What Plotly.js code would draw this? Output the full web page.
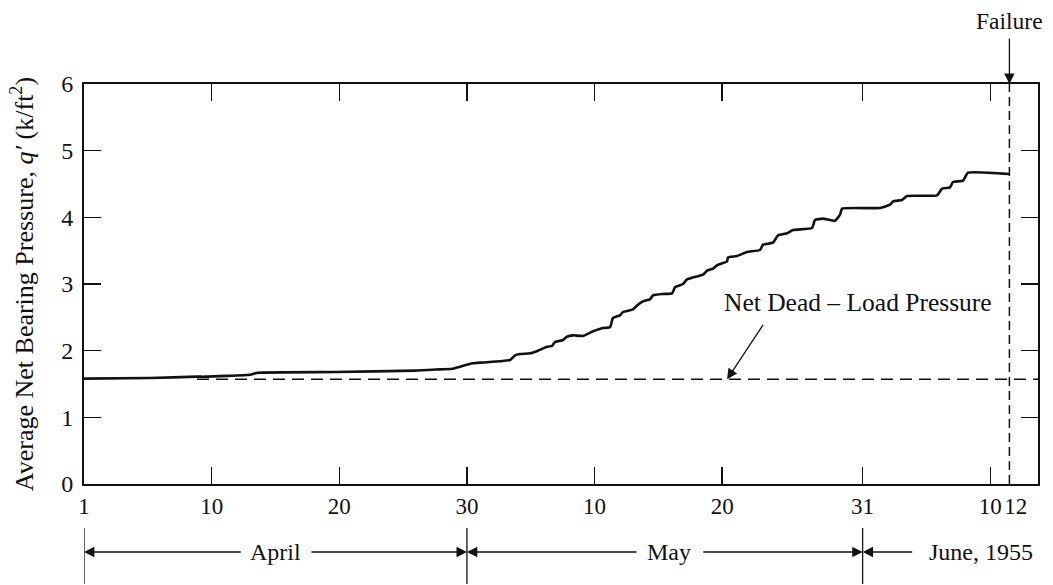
<!DOCTYPE html>
<html>
<head>
<meta charset="utf-8">
<script src="https://cdn.plot.ly/plotly-3.0.1.min.js"></script>
<style>
  html, body { margin: 0; padding: 0; background: #ffffff; }
  #chart { width: 1053px; height: 585px; }
</style>
</head>
<body>
<div id="chart"></div>
<script>
// ---- Data (x = day position along the chart's time axis, 0 = April 1) ----
const days = [0, 5.17, 8.85, 9.48, 13.01, 13.63, 19.66, 25.93, 27.89, 28.91, 29.46, 30.48, 31.02, 32.59,
  33.38, 33.77, 34.16, 34.94, 35.57, 36.27, 36.67, 36.90, 37.53, 37.84, 38.31, 39.09, 39.88, 40.66,
  41.21, 41.44, 41.99, 42.23, 43.01, 43.40, 43.79, 44.34, 44.58, 45.36, 46.07, 46.30, 46.93, 47.24,
  47.71, 48.50, 48.81, 49.28, 49.59, 50.38, 50.46, 51.16, 51.94, 52.96, 53.20, 53.98, 54.37, 55.08,
  55.55, 57.04, 57.27, 57.90, 58.84, 59.23, 59.39, 62.36, 63.15, 63.38, 64.09, 64.48, 66.83, 67.22,
  67.85, 68.08, 68.87, 69.26, 72.5];
const pressure = [1.58, 1.59, 1.61, 1.61, 1.64, 1.67, 1.68, 1.70, 1.72, 1.73, 1.76, 1.81, 1.82, 1.84,
  1.86, 1.93, 1.95, 1.96, 2.00, 2.06, 2.07, 2.13, 2.16, 2.21, 2.23, 2.22, 2.29, 2.34,
  2.35, 2.49, 2.53, 2.58, 2.62, 2.69, 2.74, 2.77, 2.83, 2.85, 2.86, 2.95, 3.00, 3.07,
  3.10, 3.14, 3.20, 3.23, 3.28, 3.34, 3.40, 3.42, 3.48, 3.51, 3.59, 3.62, 3.73, 3.76,
  3.81, 3.84, 3.96, 3.98, 3.95, 4.04, 4.13, 4.14, 4.19, 4.24, 4.26, 4.32, 4.33, 4.43,
  4.45, 4.53, 4.55, 4.67, 4.65];

const deadLoadDays = [8.85, 74.74];
const deadLoadPressure = [1.57, 1.57];

const failureDay = 72.5;
const yRange = [0, 6];
const xRange = [0, 74.74];

const tickDays = [0, 10, 20, 30, 40, 50, 61, 71, 73];
const tickLabels = ['1', '10', '20', '30', '10', '20', '31', '10', '12'];

const monthNames = ['April', 'May', 'June, 1955'];
const monthStarts = [0, 30, 61];
const monthLabelDays = [15, 45.8, 70.3];
// arrow tails (left, right) for each month label
const monthArrowTails = [[12.4, 17.7], [43.4, 48.4], [65.0, null]];

const deadLoadArrowDay = 50.38;
const deadLoadLabelDay = 60.6;
const deadLoadLabelPressure = 2.73;

const FONT = 'Liberation Serif, Times New Roman, serif';
const INK = '#111111';

// ---- Traces ----
const traces = [
  {
    x: days, y: pressure, type: 'scatter', mode: 'lines',
    line: { color: INK, width: 2.6, shape: 'spline', smoothing: 0.4 }, hoverinfo: 'skip', showlegend: false
  },
  {
    x: deadLoadDays, y: deadLoadPressure, type: 'scatter', mode: 'lines',
    line: { color: INK, width: 1.5, dash: '12px,7px' }, hoverinfo: 'skip', showlegend: false
  },
  {
    x: [failureDay, failureDay], y: yRange, type: 'scatter', mode: 'lines',
    line: { color: INK, width: 1.5, dash: '9px,5px' }, hoverinfo: 'skip', showlegend: false
  }
];

// ---- Annotations ----
const annotations = [];
const rowY = -0.17;
const arrowStyle = { showarrow: true, arrowhead: 2, arrowsize: 1.6, arrowwidth: 1.3, arrowcolor: INK, standoff: 0 };
monthNames.forEach((name, i) => {
  annotations.push({
    x: monthLabelDays[i], y: rowY, xref: 'x', yref: 'paper', text: name, showarrow: false,
    font: { family: FONT, size: 24, color: INK }, xanchor: 'center', yanchor: 'middle'
  });
  const tails = monthArrowTails[i];
  if (tails[0] !== null) {
    annotations.push(Object.assign({
      x: monthStarts[i], y: rowY, xref: 'x', yref: 'paper',
      ax: tails[0], ay: 0, axref: 'x', ayref: 'pixel', text: ''
    }, arrowStyle));
  }
  if (tails[1] !== null && i + 1 < monthStarts.length) {
    annotations.push(Object.assign({
      x: monthStarts[i + 1], y: rowY, xref: 'x', yref: 'paper',
      ax: tails[1], ay: 0, axref: 'x', ayref: 'pixel', text: ''
    }, arrowStyle));
  }
});

// Failure label + arrow
annotations.push({
  x: failureDay, y: 1.1575, xref: 'x', yref: 'paper', text: 'Failure', showarrow: false,
  font: { family: FONT, size: 23.5, color: INK }, xanchor: 'center', yanchor: 'middle'
});
annotations.push(Object.assign({
  x: failureDay, y: 1, xref: 'x', yref: 'paper', ax: 0, ay: -47, text: ''
}, arrowStyle));

// Net dead-load label + arrow
annotations.push({
  x: deadLoadLabelDay, y: deadLoadLabelPressure, xref: 'x', yref: 'y',
  text: 'Net Dead \u2013 Load Pressure', showarrow: false,
  font: { family: FONT, size: 25.5, color: INK }, xanchor: 'center', yanchor: 'middle'
});
annotations.push(Object.assign({
  x: deadLoadArrowDay, y: deadLoadPressure[0], xref: 'x', yref: 'y', ax: 37, ay: -56, text: ''
}, arrowStyle));

// ---- Shapes: month separators below the axis ----
const shapes = monthStarts.map(d => ({
  type: 'line', xref: 'x', yref: 'paper', x0: d, x1: d, y0: -0.11, y1: -0.25,
  line: { color: INK, width: 1.3 }
}));

const layout = {
  width: 1053, height: 585,
  margin: { l: 84, r: 15, t: 84, b: 101 },
  paper_bgcolor: '#ffffff', plot_bgcolor: '#ffffff',
  font: { family: FONT, color: INK, size: 23 },
  showlegend: false,
  xaxis: {
    range: xRange, showgrid: false, zeroline: false,
    showline: true, linewidth: 2, linecolor: INK, mirror: 'ticks',
    tickmode: 'array', tickvals: tickDays, ticktext: tickLabels,
    ticks: '', ticklabelstandoff: 0, tickangle: 0,
    tickfont: { family: FONT, size: 23, color: INK },
    minor: { tickmode: 'array', tickvals: tickDays.slice(1, -1), ticks: 'inside', ticklen: 17, tickwidth: 1.5, tickcolor: INK, showgrid: false }
  },
  yaxis: {
    range: yRange, showgrid: false, zeroline: false,
    showline: true, linewidth: 2, linecolor: INK, mirror: 'ticks',
    tickmode: 'linear', tick0: 0, dtick: 1,
    ticks: 'inside', ticklen: 17, tickwidth: 1.5, tickcolor: INK,
    ticklabelstandoff: 4,
    tickfont: { family: FONT, size: 24, color: INK },
    title: { text: 'Average Net Bearing Pressure, <i>q\u2032</i> (k/ft<sup>2</sup>)', font: { family: FONT, size: 26, color: INK }, standoff: 20 }
  },
  annotations: annotations,
  shapes: shapes
};

Plotly.newPlot('chart', traces, layout, { staticPlot: true, displayModeBar: false });
</script>
</body>
</html>
